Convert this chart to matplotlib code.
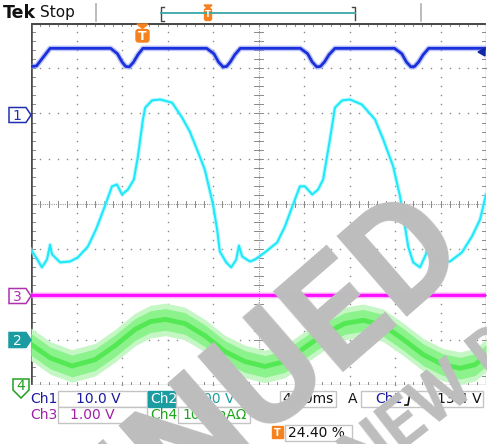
import matplotlib
matplotlib.use("Agg")
import matplotlib.pyplot as plt
from matplotlib.patches import Polygon, Rectangle, FancyBboxPatch
from matplotlib.textpath import TextPath, text_to_path
from matplotlib.font_manager import FontProperties
import numpy as np

# ---------------- data (x in divisions 0..10, y in divisions -4..4) ----------------
ch1_x = [0.00, 0.12, 0.25, 0.42,
         1.75, 1.90, 2.00, 2.08, 2.16, 2.25, 2.35, 2.46,
         3.86, 4.02, 4.12, 4.22, 4.30, 4.38, 4.48, 4.60,
         5.92, 6.08, 6.18, 6.28, 6.36, 6.45, 6.55, 6.68,
         7.99, 8.15, 8.25, 8.35, 8.43, 8.52, 8.62, 8.74, 10.0]
ch1_y = [3.04, 3.05, 3.22, 3.44,
         3.44, 3.32, 3.14, 3.04, 3.03, 3.13, 3.30, 3.44,
         3.44, 3.32, 3.14, 3.03, 3.04, 3.14, 3.30, 3.44,
         3.44, 3.32, 3.14, 3.03, 3.04, 3.14, 3.30, 3.44,
         3.44, 3.32, 3.14, 3.03, 3.04, 3.14, 3.30, 3.44, 3.44]

ch2_x = [0.00, 0.11, 0.24, 0.35, 0.42, 0.46, 0.64, 0.86, 1.03, 1.25, 1.43, 1.63,
         1.78, 1.89, 2.00, 2.13, 2.26, 2.35, 2.46, 2.51, 2.66, 2.84, 3.10, 3.32,
         3.49, 3.65, 3.82, 4.00, 4.09, 4.15, 4.29, 4.40, 4.51, 4.57, 4.64, 4.81,
         4.92, 5.14, 5.41, 5.58, 5.76, 5.91, 6.02, 6.18, 6.31, 6.42, 6.57, 6.68,
         6.84, 7.01, 7.27, 7.56, 7.74, 7.96, 8.11, 8.22, 8.29, 8.40, 8.55, 8.68,
         8.73, 8.81, 8.99, 9.21, 9.47, 9.69, 9.87, 10.00]
ch2_y = [-1.01, -1.18, -1.40, -1.23, -0.90, -1.11, -1.29, -1.27, -1.18, -0.94, -0.56, -0.03,
         0.39, 0.43, 0.21, 0.32, 0.54, 1.05, 1.87, 2.13, 2.29, 2.31, 2.24, 1.91,
         1.60, 1.20, 0.76, -0.01, -0.56, -1.05, -1.29, -1.40, -1.23, -0.92, -1.16, -1.27,
         -1.23, -1.07, -0.85, -0.50, -0.01, 0.39, 0.39, 0.21, 0.32, 0.54, 1.43, 2.13,
         2.29, 2.31, 2.20, 1.87, 1.43, 0.83, 0.17, -0.50, -0.94, -1.29, -1.40, -1.11,
         -0.90, -1.11, -1.27, -1.27, -1.07, -0.72, -0.34, 0.21]

ch3_x = [0.0, 8.44, 8.50, 8.56, 10.0]
ch3_y = [-2.02, -2.02, -2.09, -2.02, -2.02]

ch4_x = [0.00, 0.42, 0.90, 1.41, 1.85, 2.29, 2.62, 2.95, 3.38, 3.82, 4.26, 4.70, 5.14,
         5.58, 6.02, 6.46, 6.90, 7.30, 7.74, 8.18, 8.62, 9.05, 9.43, 9.76, 10.0]
ch4_y = [-3.10, -3.40, -3.58, -3.44, -3.13, -2.77, -2.60, -2.55, -2.64, -2.91, -3.26, -3.48, -3.59,
         -3.48, -3.17, -2.86, -2.64, -2.57, -2.68, -2.99, -3.33, -3.55, -3.63, -3.55, -3.35]

row1_labels = ["Ch1", "10.0 V", "Ch2", "2.00 V", "4.00ms", "A", "Ch1", "13.4 V"]
row2_labels = ["Ch3", "1.00 V", "Ch4", "10.0mAΩ"]
trig_pos = "24.40 %"
wm_big = "DISCONTINUED"
wm_small = "FOR NEW DESIGNS"

# ---------------- figure ----------------
W, H = 487, 444
fig = plt.figure(figsize=(W / 100, H / 100), dpi=100)
fig.patch.set_facecolor("white")
ax = fig.add_axes([31 / W, 59 / H, 455 / W, 362 / H])
ax.set_xlim(0, 10)
ax.set_ylim(-4, 4)
ax.axis("off")

gridc = "#8a8a8a"
minor = np.arange(0, 10.001, 0.2)
minor_y = np.arange(-4, 4.001, 0.2)
for gx in range(1, 10):
    if gx == 5:
        continue
    ax.plot([gx] * len(minor_y), minor_y, ls="none", marker="s", ms=1.0, color=gridc, mew=0)
for gy in range(-3, 4):
    if gy == 0:
        continue
    ax.plot(minor, [gy] * len(minor), ls="none", marker="s", ms=1.0, color=gridc, mew=0)
ax.plot([0, 10], [0, 0], color="#9a9a9a", lw=0.8, ls=(0, (1, 1)))
ax.plot([5, 5], [-4, 4], color="#9a9a9a", lw=0.8, ls=(0, (1, 1)))
for mx in minor:
    ax.plot([mx, mx], [-0.07, 0.07], color="#8a8a8a", lw=0.7)
for my in minor_y:
    ax.plot([4.91, 5.09], [my, my], color="#8a8a8a", lw=0.7)
for mx in minor:
    ax.plot([mx, mx], [4, 3.93], color=gridc, lw=0.7)
    ax.plot([mx, mx], [-4, -3.93], color=gridc, lw=0.7)
for my in minor_y:
    ax.plot([0, 0.09], [my, my], color=gridc, lw=0.7)
    ax.plot([10, 9.91], [my, my], color=gridc, lw=0.7)
ax.plot([0, 10], [4, 4], color="#4a4a4a", lw=2.2, solid_capstyle="butt")
ax.plot([0, 0], [-4, 4], color="#4a4a4a", lw=2.6, solid_capstyle="butt")
ax.plot([10, 10], [-4, 4], color="#a0a0a0", lw=1.0)
ax.plot([0, 10], [-4, -4], color="#a0a0a0", lw=1.0)

# traces
c4 = np.array(ch4_y)
ax.fill_between(ch4_x, c4 - 0.36, c4 + 0.36, color="#c4f7c4", lw=0, zorder=3)
ax.fill_between(ch4_x, c4 - 0.24, c4 + 0.24, color="#8cf28c", lw=0, zorder=3)
ax.plot(ch4_x, ch4_y, color="#55e855", lw=3.5, zorder=3)

ax.plot(ch3_x, ch3_y, color="#ff80ff", lw=4.2, alpha=0.6, zorder=4)
ax.plot(ch3_x, ch3_y, color="#ff10ff", lw=2.2, zorder=4)

ax.plot(ch2_x, ch2_y, color="#8ff6ff", lw=3.0, alpha=0.55, zorder=5)
ax.plot(ch2_x, ch2_y, color="#1ee8fa", lw=1.5, zorder=5)

ax.plot(ch1_x, ch1_y, color="#7f8cf4", lw=4.0, alpha=0.5, zorder=6)
ax.plot(ch1_x, ch1_y, color="#1a30dc", lw=2.0, zorder=6)

# ---------------- overlay (pixel coordinates) ----------------
ov = fig.add_axes([0, 0, 1, 1])
ov.set_xlim(0, W)
ov.set_ylim(H, 0)
ov.axis("off")
ov.patch.set_alpha(0)

orange = "#f5821f"
blue_t = "#1a1a9e"
teal = "#1a9ca0"
mag_t = "#a020a8"
green_t = "#1ea51e"
boxc = "#c4c4c4"

ov.text(3, 13, "Tek", fontsize=12.5, fontweight="bold", va="center", ha="left", color="#111111")
ov.text(40, 13, "Stop", fontsize=11, va="center", ha="left", color="#111111")
ov.plot([96, 96], [4, 21], color="#b0b0b0", lw=1.2)
ov.plot([421, 421], [4, 21], color="#b0b0b0", lw=1.2)
ov.plot([164, 161, 161, 164], [7, 7, 21, 21], color="#444444", lw=1)
ov.plot([352, 355, 355], [7, 7, 20], color="#444444", lw=1)
ov.plot([161, 355], [13.5, 13.5], color="#3aa8a8", lw=1.3)
ov.add_patch(FancyBboxPatch((205, 9), 6, 11, boxstyle="round,pad=0.5,rounding_size=2", fc=orange, ec=orange))
ov.add_patch(Polygon([(204, 5), (212, 5), (208, 9)], closed=True, fc=orange, ec=orange))
ov.text(208, 14.5, "T", fontsize=6, color="white", ha="center", va="center", fontweight="bold")

ov.add_patch(Polygon([(137, 24), (148, 24), (142.5, 28.5)], closed=True, fc=orange, ec=orange, zorder=7))
ov.add_patch(FancyBboxPatch((136, 29.5), 13, 12.5, boxstyle="round,pad=0,rounding_size=2.5", fc=orange, ec=orange, zorder=7))
ov.text(142.5, 36, "T", fontsize=9, color="white", ha="center", va="center", fontweight="bold", zorder=8)

ov.add_patch(Polygon([(478, 52), (485, 48), (485, 56)], closed=True, fc="#1028a0", ec="#1028a0", zorder=7))

def marker(y, label, ec, fc, tc):
    ov.add_patch(Polygon([(9, y - 7.5), (26, y - 7.5), (31, y), (26, y + 7.5), (9, y + 7.5)],
                         closed=True, fc=fc, ec=ec, lw=1.1, zorder=7))
    ov.text(17, y + 0.5, label, fontsize=10, color=tc, ha="center", va="center", zorder=8)

marker(115, "1", "#2030b0", "white", "#2030b0")
marker(296, "3", "#b030b0", "white", "#b030b0")
marker(340, "2", teal, teal, "white")
ov.add_patch(Polygon([(13, 379), (29, 379), (29, 390), (21, 398), (13, 390)],
                     closed=True, fc="white", ec="#20a020", lw=1.1, zorder=7))
ov.text(21, 386, "4", fontsize=10, color="#20a020", ha="center", va="center", zorder=8)

def box(x0, y0, x1, y1, fc="white", ec=boxc):
    ov.add_patch(Rectangle((x0, y0), x1 - x0, y1 - y0, fc=fc, ec=ec, lw=1, zorder=2))

fs = 10
box(58, 391, 147, 407)
box(58, 407, 147, 423)
box(148, 391, 176, 407, fc=teal, ec=teal)
box(176, 391, 249, 407)
box(178, 407, 250, 423)
box(280, 391, 336, 407)
box(361, 391, 483, 407)
box(285, 425, 352, 441)

r1 = 399
r2 = 415
ov.text(30, r1, row1_labels[0], fontsize=fs, color=blue_t, va="center", ha="left", zorder=3)
ov.text(76, r1, row1_labels[1], fontsize=fs, color=blue_t, va="center", ha="left", zorder=3)
ov.text(150, r1, row1_labels[2], fontsize=fs, color="white", va="center", ha="left", zorder=3)
ov.text(190, r1, row1_labels[3], fontsize=fs, color="#20a0a0", va="center", ha="left", zorder=3)
ov.text(282, r1, row1_labels[4], fontsize=fs, color="#111111", va="center", ha="left", zorder=3)
ov.text(348, r1, row1_labels[5], fontsize=fs, color="#111111", va="center", ha="left", zorder=3)
ov.text(375, r1, row1_labels[6], fontsize=fs, color=blue_t, va="center", ha="left", zorder=3)
ov.plot([405, 408, 410, 413], [405, 405, 393, 393], color="#111111", lw=1.2, zorder=3)
ov.text(482, r1, row1_labels[7], fontsize=fs, color="#111111", va="center", ha="right", zorder=3)

ov.text(30, r2, row2_labels[0], fontsize=fs, color=mag_t, va="center", ha="left", zorder=3)
ov.text(70, r2, row2_labels[1], fontsize=fs, color=mag_t, va="center", ha="left", zorder=3)
ov.text(150, r2, row2_labels[2], fontsize=fs, color=green_t, va="center", ha="left", zorder=3)
ov.text(182, r2, row2_labels[3], fontsize=fs, color=green_t, va="center", ha="left", zorder=3)

ov.add_patch(Rectangle((272, 426), 11, 12, fc=orange, ec=orange, zorder=3))
ov.text(277.5, 432.5, "T", fontsize=7, color="white", ha="center", va="center", fontweight="bold", zorder=4)
ov.text(288, 433, trig_pos, fontsize=fs, color="#111111", va="center", ha="left", zorder=3)

# ---------------- watermark ----------------
wm = "#bdbdbd"
wm_font = "Roboto"

def rot_offset(gx, gy, deg):
    t = np.deg2rad(deg)
    c, s = np.cos(t), np.sin(t)
    return gx * c - gy * s, -gx * s - gy * c

em_big = 150.0
ang_big = 41.0
fp_big = FontProperties(family=wm_font, weight="bold", size=em_big)
full = TextPath((0, 0), wm_big, prop=fp_big).get_extents()
dlet = TextPath((0, 0), wm_big[-1], prop=fp_big).get_extents()
xD = full.x1 - dlet.width
cap = dlet.y1
Ax, Ay = 336, 229
ox, oy = rot_offset(xD, cap, ang_big)
ov.text(Ax - ox, Ay - oy, wm_big, fontsize=em_big * 72 / 100, color=wm, rotation=ang_big,
        rotation_mode="anchor", ha="left", va="baseline", family=wm_font,
        fontweight="bold", zorder=20)

em_small = 68.0
ang_small = 38.0
fp_small = FontProperties(family=wm_font, weight="bold", size=em_small)
pre = wm_small.split("NEW")[0]
w_pre = text_to_path.get_text_width_height_descent(pre, fp_small, ismath=False)[0]
Nx, Ny = 363, 483
ox, oy = rot_offset(w_pre, 0, ang_small)
ov.text(Nx - ox, Ny - oy, wm_small, fontsize=em_small * 72 / 100, color=wm, rotation=ang_small,
        rotation_mode="anchor", ha="left", va="baseline", family=wm_font, fontweight="bold", zorder=20)

fig.savefig("out.png", dpi=100, facecolor="white")
